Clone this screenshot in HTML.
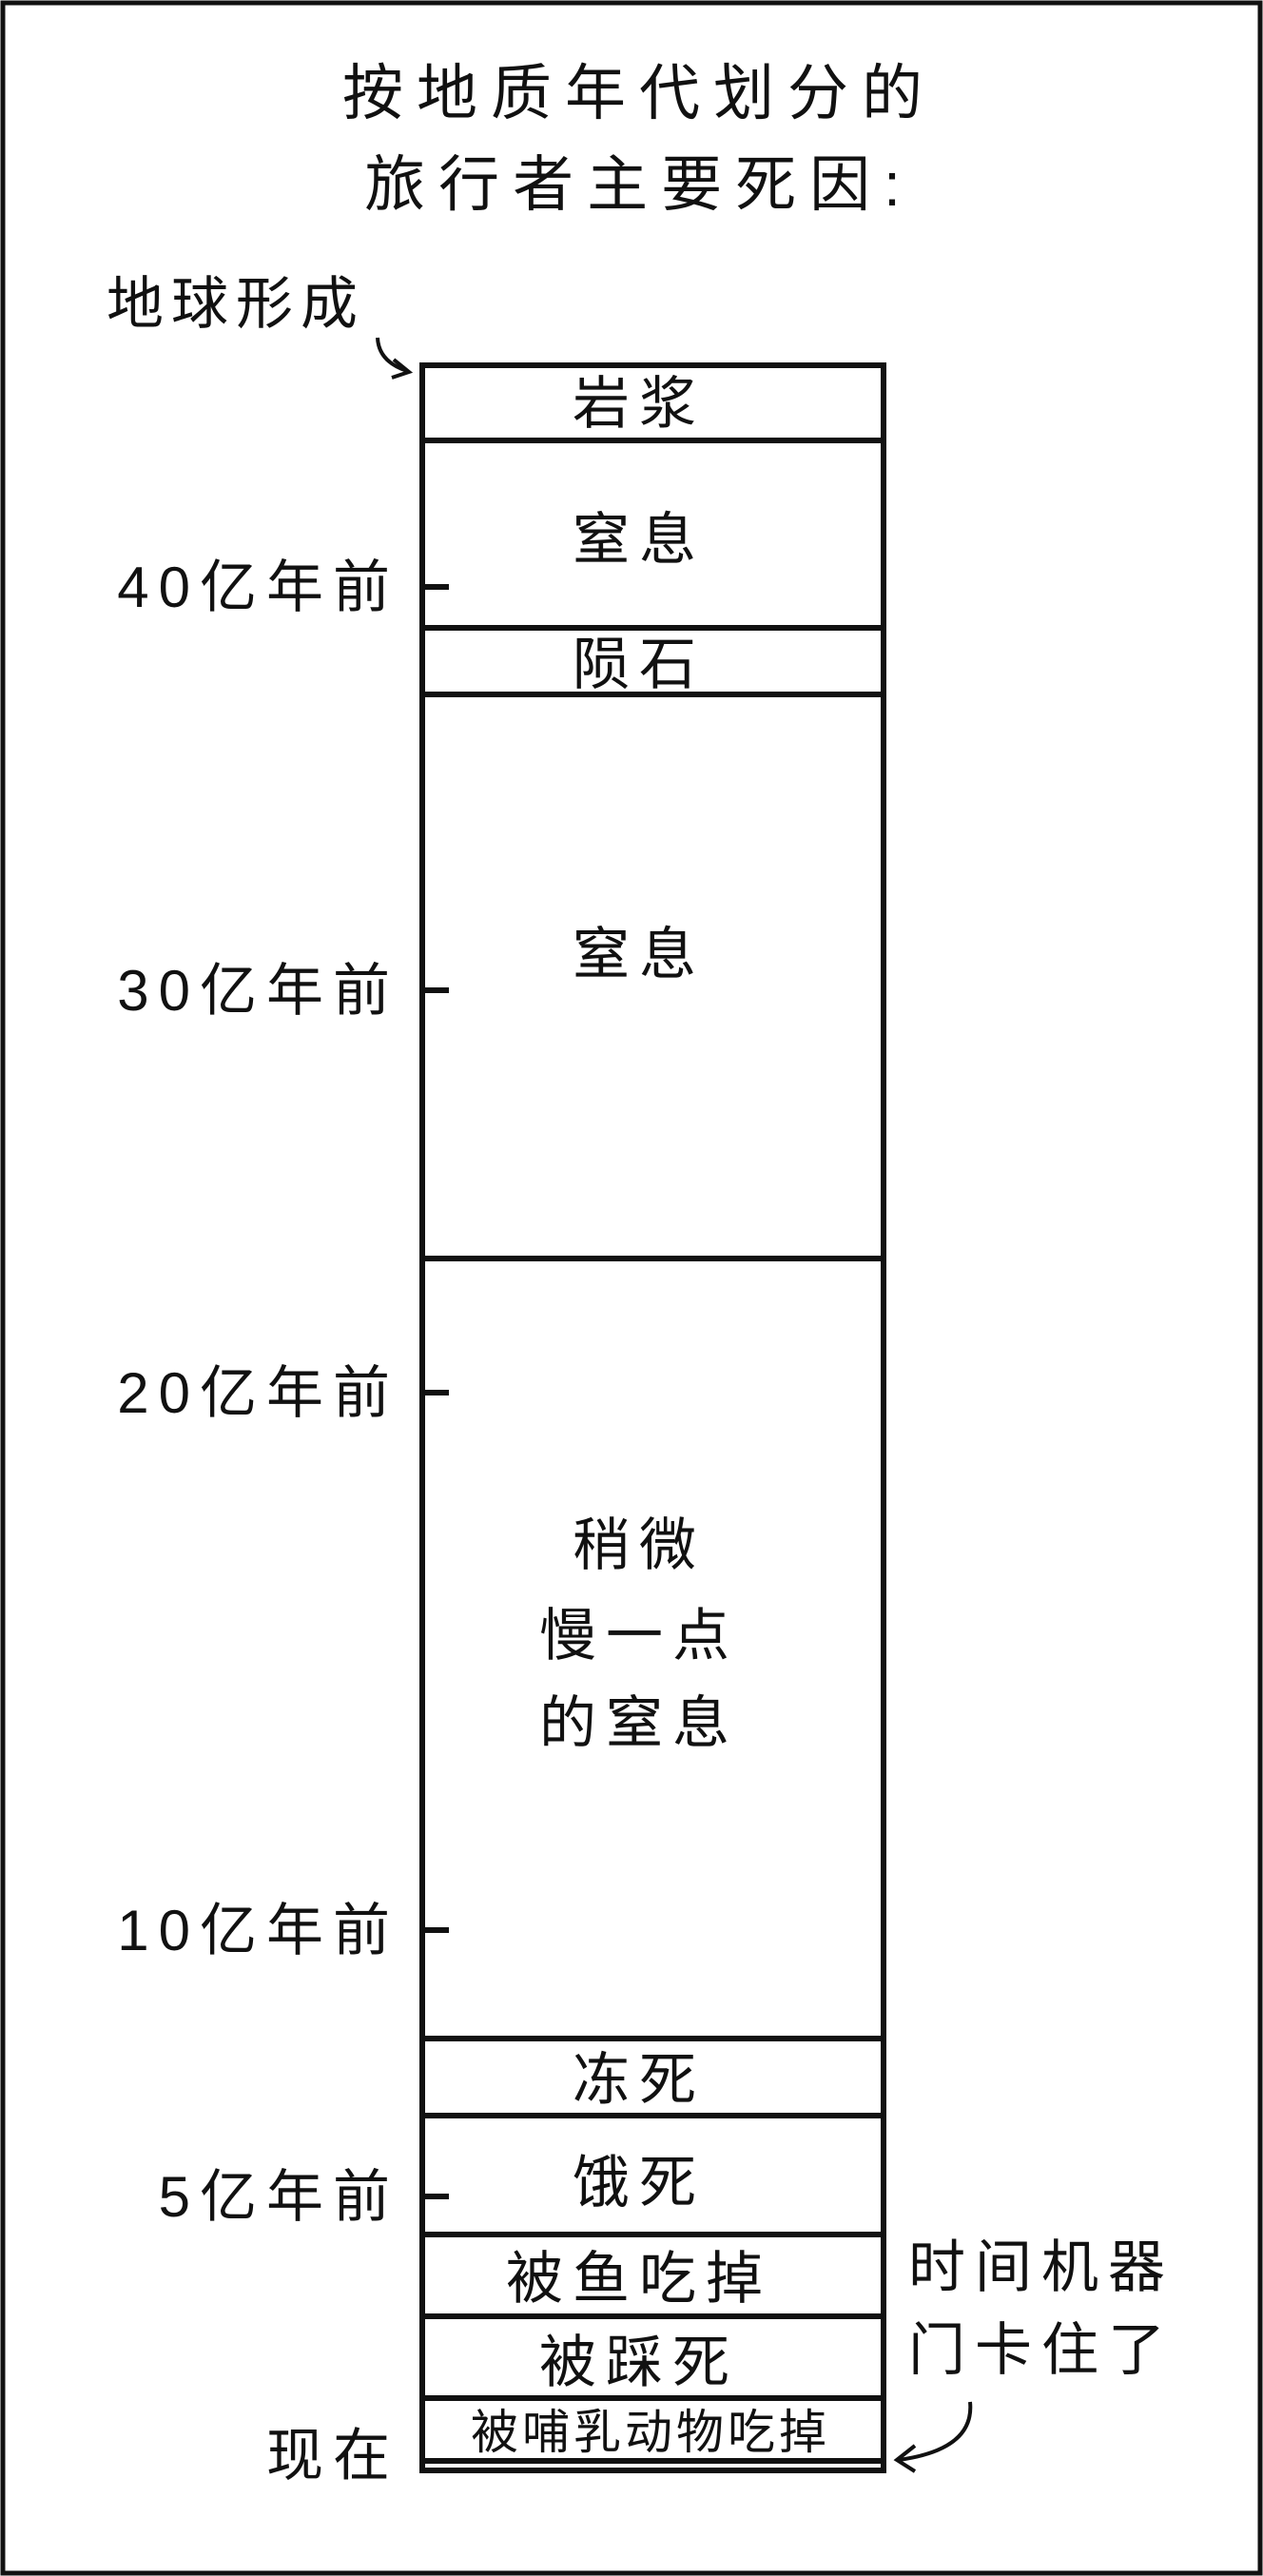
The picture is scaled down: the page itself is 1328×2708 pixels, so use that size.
<!DOCTYPE html>
<html><head><meta charset="utf-8"><style>
html,body{margin:0;padding:0;background:#fff}
svg{display:block}
text{font-family:"Liberation Sans","Noto Sans CJK SC",sans-serif;fill:#111}
</style></head><body>
<svg width="1328" height="2708" viewBox="0 0 1328 2708" xmlns="http://www.w3.org/2000/svg">
<rect x="3" y="3" width="1322" height="2702" fill="#fff" stroke="#111" stroke-width="5"/>
<g font-size="64" text-anchor="middle" letter-spacing="14">
<text x="672" y="120">按地质年代划分的</text>
<text x="672" y="216">旅行者主要死因:</text>
</g>
<text x="112" y="340" font-size="60" letter-spacing="8">地球形成</text>
<path d="M397 355 Q398 380 428 390" fill="none" stroke="#111" stroke-width="4"/>
<path d="M414 378 L430 391 L412 397" fill="none" stroke="#111" stroke-width="4"/>
<g fill="none" stroke="#111" stroke-width="6">
<rect x="444" y="384" width="485" height="2213"/>
<line x1="444" y1="463" x2="929" y2="463"/>
<line x1="444" y1="660" x2="929" y2="660"/>
<line x1="444" y1="730" x2="929" y2="730"/>
<line x1="444" y1="1323" x2="929" y2="1323"/>
<line x1="444" y1="2143" x2="929" y2="2143"/>
<line x1="444" y1="2224" x2="929" y2="2224"/>
<line x1="444" y1="2349" x2="929" y2="2349"/>
<line x1="444" y1="2435" x2="929" y2="2435"/>
<line x1="444" y1="2521" x2="929" y2="2521"/>
<line x1="444" y1="2587" x2="929" y2="2587"/>
<line x1="444" y1="617" x2="472" y2="617"/>
<line x1="444" y1="1041" x2="472" y2="1041"/>
<line x1="444" y1="1464" x2="472" y2="1464"/>
<line x1="444" y1="2029" x2="472" y2="2029"/>
<line x1="444" y1="2309" x2="472" y2="2309"/>
</g>
<g font-size="60" text-anchor="end" letter-spacing="10">
<text x="420" y="638">40亿年前</text>
<text x="420" y="1062">30亿年前</text>
<text x="420" y="1485">20亿年前</text>
<text x="420" y="2050">10亿年前</text>
<text x="420" y="2330">5亿年前</text>
<text x="420" y="2602">现在</text>
</g>
<g font-size="60" text-anchor="middle" letter-spacing="10">
<text x="672" y="445">岩浆</text>
<text x="672" y="588">窒息</text>
<text x="672" y="719">陨石</text>
<text x="672" y="1024">窒息</text>
<text x="672" y="1645">稍微</text>
<text x="672" y="1740">慢一点</text>
<text x="672" y="1832">的窒息</text>
<text x="672" y="2207">冻死</text>
<text x="672" y="2315">饿死</text>
<text x="672" y="2416">被鱼吃掉</text>
<text x="672" y="2504">被踩死</text>
<text x="684" y="2574" font-size="50" letter-spacing="4">被哺乳动物吃掉</text>
<text x="1095" y="2404">时间机器</text>
<text x="1095" y="2491">门卡住了</text>
</g>
<path d="M1020 2525 Q1025 2575 945 2586" fill="none" stroke="#111" stroke-width="4"/>
<path d="M962 2571 L943 2586 L962 2598" fill="none" stroke="#111" stroke-width="4"/>
</svg>
</body></html>
